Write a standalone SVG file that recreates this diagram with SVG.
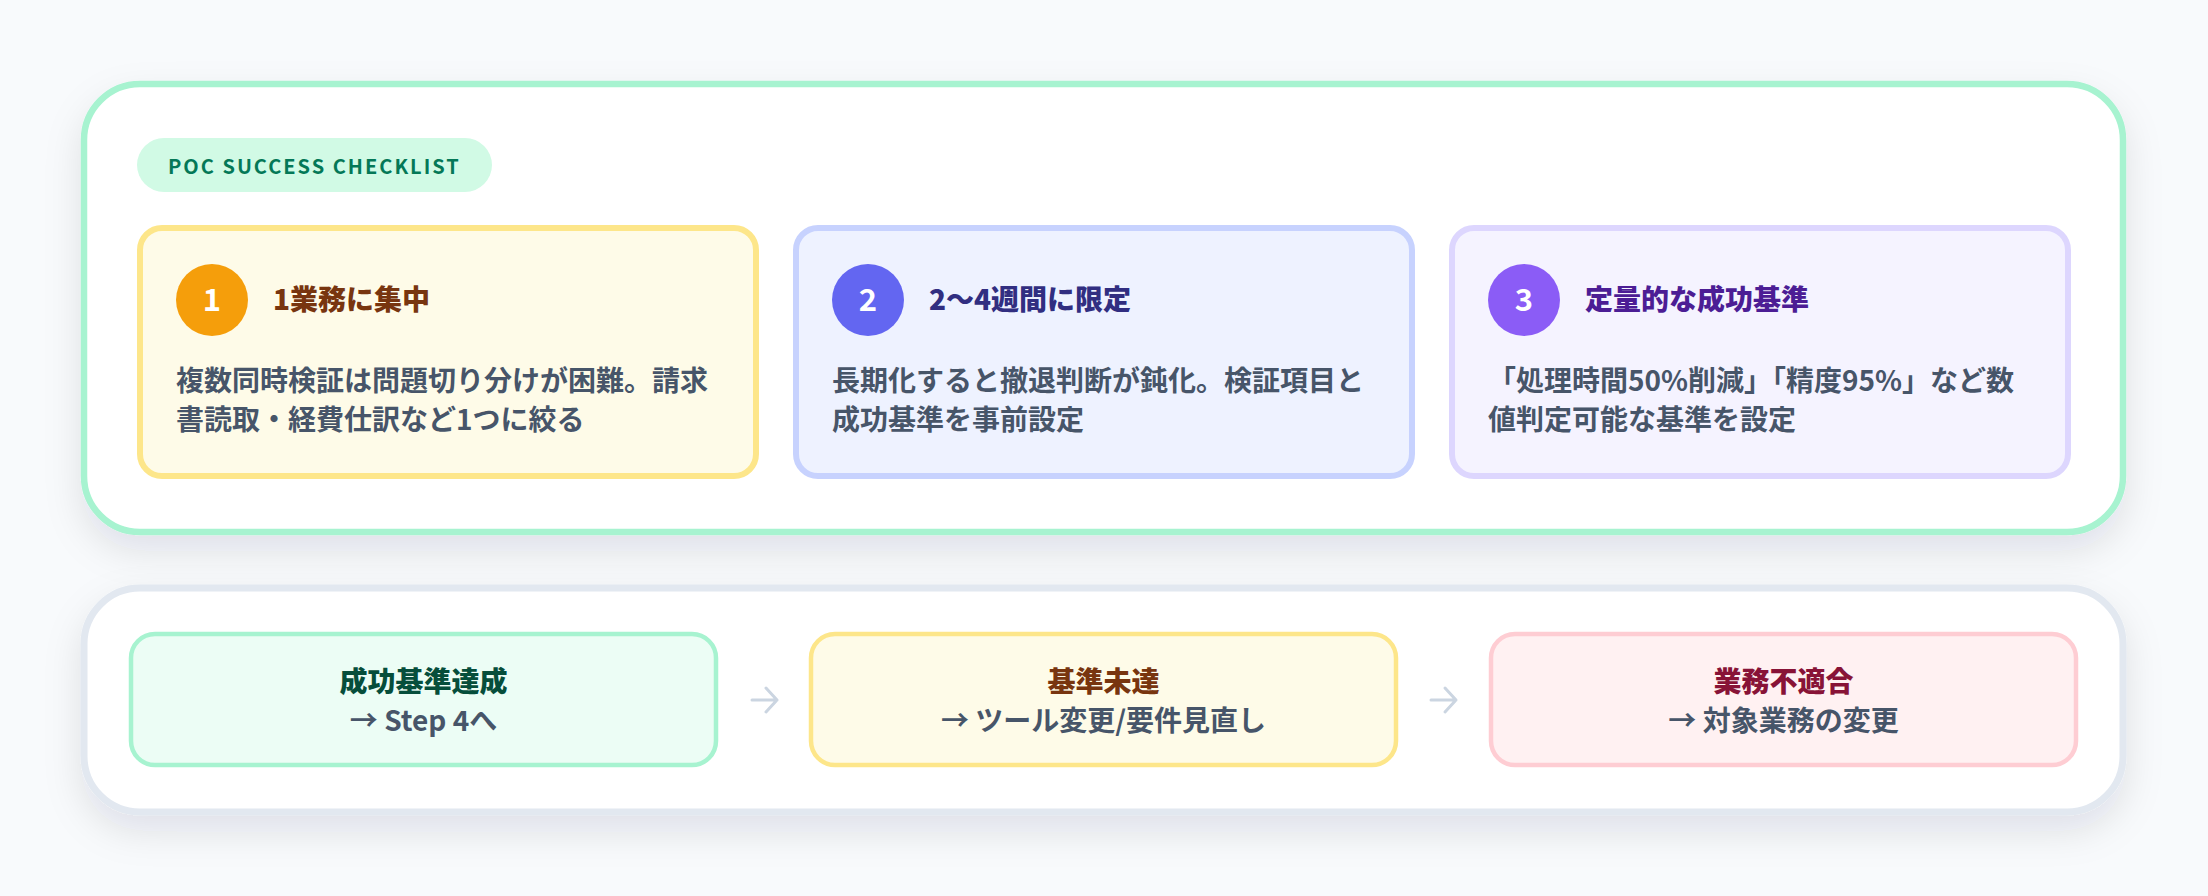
<svg xmlns="http://www.w3.org/2000/svg" width="2208" height="896" viewBox="0 0 2208 896">
  <style>
    text { font-family: "Noto Sans CJK JP", "Noto Sans", sans-serif; }
    .badge-text { font-size: 20px; font-weight: 700; letter-spacing: 2px; fill: #047857; }
    .num { font-size: 31px; font-weight: 700; fill: #ffffff; text-anchor: middle; }
    .title { font-size: 28px; font-weight: 900; }
    .desc { font-size: 28px; font-weight: 700; fill: #475569; }
    .otitle { font-size: 28px; font-weight: 900; text-anchor: middle; }
    .osub { font-size: 28px; font-weight: 700; fill: #475569; text-anchor: middle; }
    .card { stroke-width: 6; }
    .obox { stroke-width: 4.5; }
    .arrow { fill: none; stroke: #cbd5e1; stroke-width: 3; stroke-linecap: round; stroke-linejoin: round; }
  </style>
  <defs>
    <filter id="shadow" x="-10%" y="-20%" width="120%" height="150%">
      <feDropShadow dx="0" dy="16" stdDeviation="18" flood-color="#0f172a" flood-opacity="0.1"/>
    </filter>
  </defs>
  <rect width="2208" height="896" fill="#f8fafc"/>

  <g id="panel-checklist">
    <rect x="84" y="84" width="2039" height="448" rx="56" fill="#ffffff" stroke="#a7f3d0" stroke-width="6.5" filter="url(#shadow)"/>
  </g>

  <g id="badge">
    <rect x="137" y="138" width="355" height="54" rx="27" fill="#d1fae5"/>
    <text class="badge-text" x="168" y="174">POC SUCCESS CHECKLIST</text>
  </g>

  <g id="card-1">
    <rect class="card" x="140" y="228" width="616" height="248" rx="22" fill="#fefbe8" stroke="#fde68a"/>
    <circle cx="212" cy="300" r="36" fill="#f59e0b"/>
    <text class="num" x="212" y="311">1</text>
    <text class="title" x="273" y="310" fill="#78350f">1業務に集中</text>
    <text class="desc" x="176" y="391">複数同時検証は問題切り分けが困難。請求</text>
    <text class="desc" x="176" y="430">書読取・経費仕訳など1つに絞る</text>
  </g>

  <g id="card-2">
    <rect class="card" x="796" y="228" width="616" height="248" rx="22" fill="#eef2ff" stroke="#c7d2fe"/>
    <circle cx="868" cy="300" r="36" fill="#6366f1"/>
    <text class="num" x="868" y="311">2</text>
    <text class="title" x="929" y="310" fill="#312e81">2〜4週間に限定</text>
    <text class="desc" x="832" y="391">長期化すると撤退判断が鈍化。検証項目と</text>
    <text class="desc" x="832" y="430">成功基準を事前設定</text>
  </g>

  <g id="card-3">
    <rect class="card" x="1452" y="228" width="616" height="248" rx="22" fill="#f5f3ff" stroke="#ddd6fe"/>
    <circle cx="1524" cy="300" r="36" fill="#8b5cf6"/>
    <text class="num" x="1524" y="311">3</text>
    <text class="title" x="1585" y="310" fill="#4c1d95">定量的な成功基準</text>
    <text class="desc" x="1488" y="391">「処理時間50%削減」「精度95%」など数</text>
    <text class="desc" x="1488" y="430">値判定可能な基準を設定</text>
  </g>

  <g id="panel-outcomes">
    <rect x="84" y="588" width="2039" height="224" rx="56" fill="#ffffff" stroke="#e2e8f0" stroke-width="7" filter="url(#shadow)"/>
  </g>

  <g id="outcome-1">
    <rect class="obox" x="131" y="634" width="585" height="131" rx="24" fill="#ecfdf5" stroke="#a7f3d0"/>
    <text class="otitle" x="423.5" y="692" fill="#064e3b">成功基準達成</text>
    <text class="osub" x="423.5" y="731">→ Step 4へ</text>
  </g>

  <g id="outcome-2">
    <rect class="obox" x="811" y="634" width="585" height="131" rx="24" fill="#fefbe8" stroke="#fde68a"/>
    <text class="otitle" x="1103.5" y="692" fill="#78350f">基準未達</text>
    <text class="osub" x="1103.5" y="731">→ ツール変更/要件見直し</text>
  </g>

  <g id="outcome-3">
    <rect class="obox" x="1491" y="634" width="585" height="131" rx="24" fill="#fff1f2" stroke="#fecdd3"/>
    <text class="otitle" x="1783.5" y="692" fill="#881337">業務不適合</text>
    <text class="osub" x="1783.5" y="731">→ 対象業務の変更</text>
  </g>

  <g id="connectors">
    <path class="arrow" d="M752 700 H777 M766 688 L777 700 L766 712"/>
    <path class="arrow" d="M1431 700 H1456 M1445 688 L1456 700 L1445 712"/>
  </g>
</svg>
